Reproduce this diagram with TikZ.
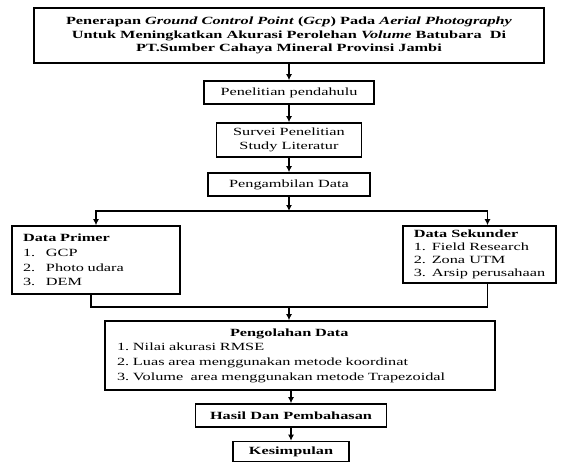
\documentclass[tikz,border=0pt]{standalone}
\usepackage{fontspec}
\setmainfont{Liberation Serif}[FakeStretch=1.48]
\usepackage{tikz}
\usetikzlibrary{arrows,arrows.meta}
\usetikzlibrary{positioning}
\newcommand{\isifont}{\fontsize{11}{14.6}\selectfont}
\newcommand{\judulfont}{\fontsize{11}{13.3}\selectfont}
\tikzstyle{box} = [rectangle, draw=black, line width=1.6pt, inner sep=0pt, text centered, align=center, font=\isifont]
\tikzstyle{list} = [box, align=left, inner xsep=11pt]
\tikzstyle{line} = [draw=black, line width=1.5pt]
\tikzstyle{arrow} = [line, -{Latex[length=6pt,width=6pt]}]

\begin{document}
\begin{tikzpicture}[x=1pt,y=-1pt]
\useasboundingbox (0,0) rectangle (561,464);

 \node (judul) [box, minimum width=510pt, minimum height=55pt, font=\judulfont] at (289,35.5) {
  \textbf{Penerapan \textit{Ground Control Point} (\textit{Gcp}) Pada \textit{Aerial Photography}}\\
  \textbf{Untuk Meningkatkan Akurasi Perolehan \textit{Volume} Batubara\ \ Di}\\
  \textbf{PT.Sumber Cahaya Mineral Provinsi Jambi}};
 \node (pend) [box, minimum width=170pt, minimum height=23pt] at (289,92.5) {Penelitian pendahulu};
 \node (survei) [box, minimum width=145pt, minimum height=34pt] at (289,140) {Survei Penelitian\\Study Literatur};
 \node (ambil) [box, minimum width=162pt, minimum height=23pt] at (289,184.5) {Pengambilan Data};
 \coordinate (cabang) at (289,211);

 \node (primer) [list, text width=146pt, minimum height=68pt] at (96,260) {
  \textbf{Data Primer}\\
  \makebox[23pt][l]{1.}GCP\\
  \makebox[23pt][l]{2.}Photo udara\\
  \makebox[23pt][l]{3.}DEM};
 \node (sekunder) [list, inner xsep=0pt, minimum width=153pt, minimum height=57pt, font=\fontsize{11}{13}\selectfont] at (479.5,254.5) {
  \textbf{Data Sekunder}\\
  \makebox[18pt][l]{1.}Field Research\\
  \makebox[18pt][l]{2.}Zona UTM\\
  \makebox[18pt][l]{3.}Arsip perusahaan};
 \coordinate (gabung) at (289,307);

 \node (olah) [list, inner xsep=12pt, text width=366pt, minimum height=69pt] at (300,355.5) {
  \hspace*{113pt}\textbf{Pengolahan Data}\\
  \makebox[16pt][l]{1.}Nilai akurasi RMSE\\
  \makebox[16pt][l]{2.}Luas area menggunakan metode koordinat\\
  \makebox[16pt][l]{3.}Volume\ \ area menggunakan metode Trapezoidal};
 \node (hasil) [box, minimum width=191pt, minimum height=23pt] at (291,415.5) {\textbf{Hasil Dan Pembahasan}};
 \node (kes) [box, minimum width=116pt, minimum height=20pt] at (291,451.5) {\textbf{Kesimpulan}};

 % alur
 \draw[arrow] (judul) -- (pend);
 \draw[arrow] (pend) -- (survei);
 \draw[arrow] (survei) -- (ambil);
 \draw[arrow] (ambil) -- (cabang);
 \draw[arrow] (cabang) -| (primer);
 \draw[arrow] (cabang) -| ([xshift=8pt]sekunder.north);
 \draw[line] ([xshift=-5pt]primer.south) |- (gabung) -| ([xshift=8pt]sekunder.south);
 \draw[arrow] (gabung) -- (gabung |- olah.north);
 \draw[arrow] (olah.south -| hasil) -- (hasil);
 \draw[arrow] (hasil) -- (kes);
\end{tikzpicture}
\end{document}
